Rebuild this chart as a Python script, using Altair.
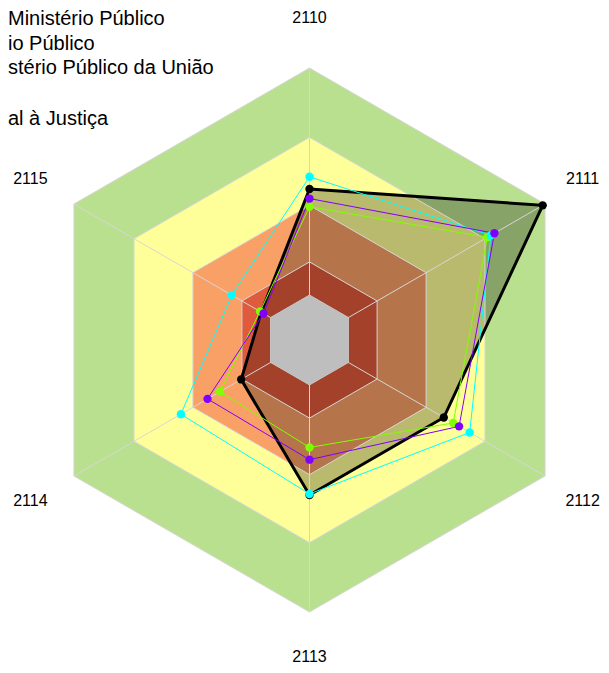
import altair as alt
import numpy as np
import pandas as pd

# ---- data -------------------------------------------------------------
axis_labels = ["2110", "2111", "2112", "2113", "2114", "2115"]

# band boundaries (fraction of the outer radius) and their fill colours
band_levels = [1.0, 0.745, 0.495, 0.287]
band_colors = ["#B9E08E", "#FFFF99", "#F9A066", "#E05A3C"]
center_level = 0.165
center_color = "#BEBEBE"

series_ids = ["s_black", "s_green", "s_cyan", "s_purple"]
series_colors = ["#000000", "#80FF00", "#00FFFF", "#8000FF"]
series_widths = [3, 1, 1, 1]
s_black = [0.555, 0.99, 0.57, 0.57, 0.29, 0.205]
s_green = [0.49, 0.755, 0.61, 0.395, 0.38, 0.21]
s_cyan = [0.60, 0.77, 0.68, 0.566, 0.546, 0.33]
s_purple = [0.52, 0.785, 0.635, 0.44, 0.433, 0.195]
series_values = [s_black, s_green, s_cyan, s_purple]

legend_labels = ["Ministério Público", "io Público",
                 "stério Público da União", "al à Justiça"]
label_radius = 1.185

# ---- geometry helpers --------------------------------------------------
W, H = 593, 657
PX = 272.0
CX, CY = 301.5, 332.0
x_dom = [-CX / PX, (W - CX) / PX]
y_dom = [-(H - CY) / PX, CY / PX]
n = len(axis_labels)
ang = np.arange(n) * 2 * np.pi / n


def ring(level, key):
    return pd.DataFrame({
        "x": level * np.sin(ang),
        "y": level * np.cos(ang),
        "o": np.arange(n),
        "k": key,
    })


def xy(df):
    return dict(
        x=alt.X("x:Q", scale=alt.Scale(domain=x_dom, nice=False, zero=False), axis=None),
        y=alt.Y("y:Q", scale=alt.Scale(domain=y_dom, nice=False, zero=False), axis=None),
    )


def poly(df, **mk):
    return alt.Chart(df).mark_line(interpolate="linear-closed", **mk).encode(
        order="o:Q", **xy(df))


layers = []
# bands
for lvl, col in zip(band_levels, band_colors):
    layers.append(poly(ring(lvl, col), fill=col, strokeOpacity=0, strokeWidth=0))

# black series fill
bdf = pd.DataFrame({"x": np.array(s_black) * np.sin(ang),
                    "y": np.array(s_black) * np.cos(ang),
                    "o": np.arange(n)})
layers.append(poly(bdf, fill="#000000", fillOpacity=0.27, strokeOpacity=0, strokeWidth=0))

# grid rings
for lvl in band_levels + [center_level]:
    layers.append(poly(ring(lvl, "g"), stroke="#D6D6D6", strokeWidth=1))

# spokes
spk = pd.DataFrame({
    "x": np.concatenate([np.zeros(n), np.sin(ang)]),
    "y": np.concatenate([np.zeros(n), np.cos(ang)]),
    "o": np.concatenate([np.zeros(n), np.ones(n)]),
    "s": np.concatenate([np.arange(n), np.arange(n)]),
})
layers.append(alt.Chart(spk).mark_line(stroke="#D6D6D6", strokeWidth=1).encode(
    detail="s:N", order="o:Q", **xy(spk)))

# centre
layers.append(poly(ring(center_level, "c"), fill=center_color, strokeOpacity=0, strokeWidth=0))

# series lines and points
for sid, col, w, vals in zip(series_ids, series_colors, series_widths, series_values):
    df = pd.DataFrame({"x": np.array(vals) * np.sin(ang),
                       "y": np.array(vals) * np.cos(ang),
                       "o": np.arange(n)})
    layers.append(poly(df, stroke=col, strokeWidth=w))
for sid, col, w, vals in zip(series_ids, series_colors, series_widths, series_values):
    df = pd.DataFrame({"x": np.array(vals) * np.sin(ang),
                       "y": np.array(vals) * np.cos(ang)})
    layers.append(alt.Chart(df).mark_circle(size=70, color=col, opacity=1).encode(**xy(df)))

# axis labels
lab = pd.DataFrame({"x": label_radius * np.sin(ang),
                    "y": label_radius * np.cos(ang),
                    "t": axis_labels})
shift = {"2110": (0, 0), "2111": (-6, 0), "2112": (-6, 0),
         "2113": (0, -5), "2114": (0, 0), "2115": (0, 0)}
for t in axis_labels:
    sub = lab[lab["t"] == t]
    dx, dy = shift[t]
    layers.append(alt.Chart(sub).mark_text(
        font="Liberation Sans", fontSize=16, color="#000000",
        align="center", baseline="middle", dx=dx, dy=dy).encode(text="t:N", **xy(sub)))

# legend text (the reference shows only the right-hand part of each entry)
leg_y = [11, 36, 60, 111]
for t, ye in zip(legend_labels, leg_y):
    layers.append(alt.Chart(pd.DataFrame({"t": [t]})).mark_text(
        font="Liberation Sans", fontSize=20, color="#000000", align="left",
        baseline="middle").encode(text="t:N", x=alt.value(0), y=alt.value(ye)))

chart = alt.layer(*layers).properties(
    width=W, height=H, padding=0,
    autosize=alt.AutoSizeParams(type="none"),
).configure_view(stroke=None)

chart.save("out.html", embed_options={"renderer": "svg", "actions": False})
